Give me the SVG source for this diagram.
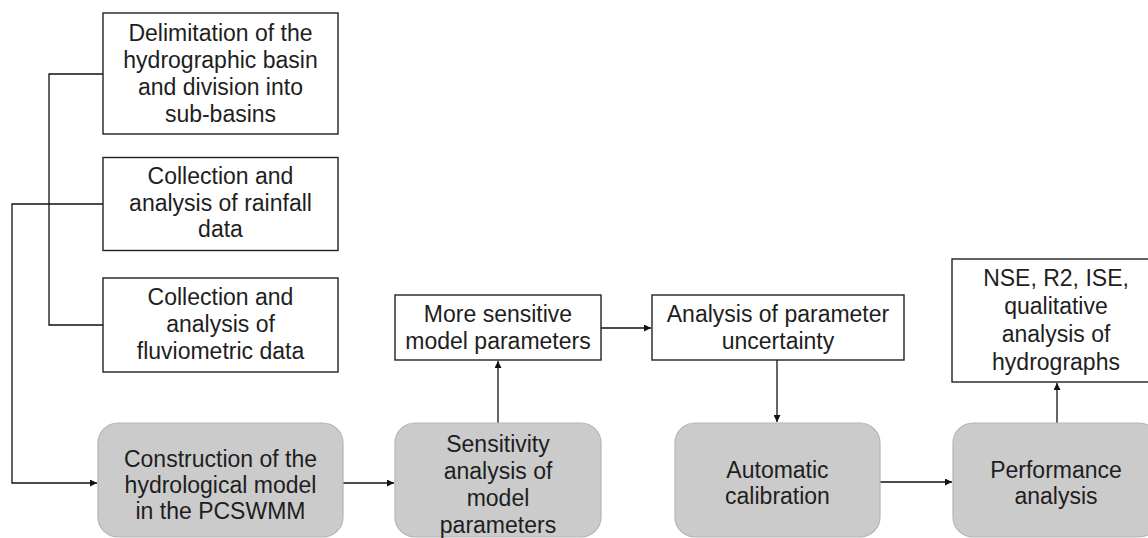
<svg xmlns="http://www.w3.org/2000/svg" width="1148" height="538" viewBox="0 0 1148 538">
<style>
.box{fill:#ffffff;stroke:#222;stroke-width:1.4}
.rbox{fill:#cbcbcb;stroke:#b5b5b5;stroke-width:1.2}
.t{font-family:"Liberation Sans",Arial,sans-serif;font-size:23px;fill:#1e1e1e;text-anchor:middle}
.c{fill:none;stroke:#111;stroke-width:1.3}
</style>
<defs>
<marker id="ah" viewBox="0 0 10 10" refX="10" refY="5" markerWidth="7" markerHeight="7" markerUnits="userSpaceOnUse" orient="auto">
<path d="M0,0 L10,5 L0,10 z" fill="#111"/>
</marker>
</defs>
<rect width="1148" height="538" fill="#ffffff"/>
<g id="connectors">
<path class="c" d="M103,74 H49 V325 H103"/>
<path class="c" d="M103,204 H12 V483 H97" marker-end="url(#ah)"/>
<path class="c" d="M343,483 H394" marker-end="url(#ah)"/>
<path class="c" d="M498,423 V361" marker-end="url(#ah)"/>
<path class="c" d="M601,328 H651" marker-end="url(#ah)"/>
<path class="c" d="M777,360 V422" marker-end="url(#ah)"/>
<path class="c" d="M880,482 H952" marker-end="url(#ah)"/>
<path class="c" d="M1057,423 V383" marker-end="url(#ah)"/>
</g>
<g id="n_delimitation">
<rect class="box" x="103" y="13" width="235" height="121"/>
<text class="t"><tspan x="220.5" y="41">Delimitation of the</tspan><tspan x="220.5" y="68">hydrographic basin</tspan><tspan x="220.5" y="95">and division into</tspan><tspan x="220.5" y="122">sub-basins</tspan></text>
</g>
<g id="n_rainfall">
<rect class="box" x="103" y="157.5" width="235" height="93"/>
<text class="t"><tspan x="220.5" y="184">Collection and</tspan><tspan x="220.5" y="211">analysis of rainfall</tspan><tspan x="220.5" y="237">data</tspan></text>
</g>
<g id="n_fluviometric">
<rect class="box" x="103" y="278" width="235" height="94"/>
<text class="t"><tspan x="220.5" y="305">Collection and</tspan><tspan x="220.5" y="332">analysis of</tspan><tspan x="220.5" y="359">fluviometric data</tspan></text>
</g>
<g id="n_construction">
<rect class="rbox" x="98" y="423" width="245" height="114" rx="20" ry="20"/>
<text class="t"><tspan x="220.5" y="467">Construction of the</tspan><tspan x="220.5" y="493">hydrological model</tspan><tspan x="220.5" y="519">in the PCSWMM</tspan></text>
</g>
<g id="n_sensitivity">
<rect class="rbox" x="395" y="423" width="206" height="114" rx="20" ry="20"/>
<text class="t"><tspan x="498" y="452">Sensitivity</tspan><tspan x="498" y="479">analysis of</tspan><tspan x="498" y="506">model</tspan><tspan x="498" y="533">parameters</tspan></text>
</g>
<g id="n_more_sensitive">
<rect class="box" x="395" y="295" width="206" height="65"/>
<text class="t"><tspan x="498" y="322">More sensitive</tspan><tspan x="498" y="349">model parameters</tspan></text>
</g>
<g id="n_uncertainty">
<rect class="box" x="652" y="295" width="252" height="65"/>
<text class="t"><tspan x="778" y="322">Analysis of parameter</tspan><tspan x="778" y="349">uncertainty</tspan></text>
</g>
<g id="n_automatic">
<rect class="rbox" x="675" y="423" width="205" height="114" rx="20" ry="20"/>
<text class="t"><tspan x="777.5" y="478">Automatic</tspan><tspan x="777.5" y="504">calibration</tspan></text>
</g>
<g id="n_performance">
<rect class="rbox" x="953" y="423" width="206" height="114" rx="20" ry="20"/>
<text class="t"><tspan x="1056" y="478">Performance</tspan><tspan x="1056" y="504">analysis</tspan></text>
</g>
<g id="n_nse">
<rect class="box" x="952" y="259" width="208" height="123"/>
<text class="t"><tspan x="1056" y="286">NSE, R2, ISE,</tspan><tspan x="1056" y="314">qualitative</tspan><tspan x="1056" y="342">analysis of</tspan><tspan x="1056" y="370">hydrographs</tspan></text>
</g>
</svg>
